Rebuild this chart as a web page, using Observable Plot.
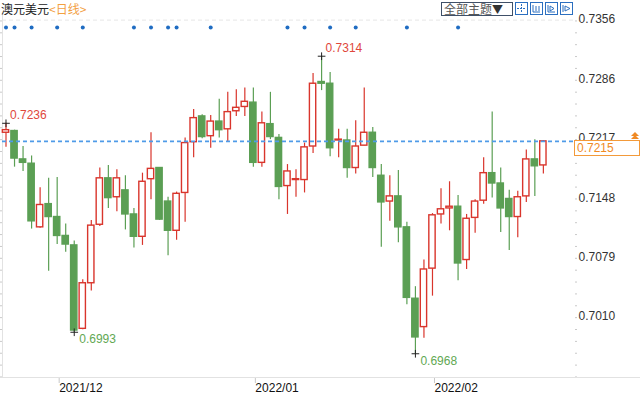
<!DOCTYPE html>
<html>
<head>
<meta charset="utf-8">
<script src="https://cdn.jsdelivr.net/npm/d3@7"></script>
<script src="https://cdn.jsdelivr.net/npm/@observablehq/plot@0.6"></script>
<style>
html,body{margin:0;padding:0;background:#fff;}
#wrap{position:relative;width:640px;height:394px;overflow:hidden;font-family:"Liberation Sans",Arial,sans-serif;}
#wrap svg{position:absolute;left:0;top:0;}
#title{position:absolute;left:1px;top:1px;font-size:12px;line-height:15px;font-family:"Noto Sans CJK SC",sans-serif;color:#222;z-index:2;white-space:nowrap;}
#title .sub{color:#f3a03f;}
#theme{position:absolute;left:441px;top:2px;width:68px;height:12px;border:1px solid #3f5068;font-size:12px;line-height:12px;font-family:"Noto Sans CJK SC",sans-serif;color:#555;padding-left:2px;z-index:2;white-space:nowrap;}
#theme b{color:#333;font-weight:normal;font-size:11px;}
.ibtn{position:absolute;top:2px;width:11px;height:11px;border:1px solid #2b6fc0;z-index:2;background:#fff;}
.ibtn svg{position:absolute;left:0;top:0;}
#pricebox{position:absolute;left:574px;width:62px;height:14px;border:1px solid #f39a3a;background:#fff;color:#f08a24;font-size:12px;line-height:14px;padding-left:2px;z-index:2;}
#arrow{position:absolute;left:631px;z-index:2;}
#bline{position:absolute;left:0;top:377px;width:640px;height:1px;background:#e2e2e2;}
</style>
</head>
<body>
<div id="wrap">
  <div id="bline"></div>
  <div id="title">澳元美元<span class="sub">&lt;日线&gt;</span></div>
  <div id="theme">全部主题<b>▼</b></div>
  <div class="ibtn" style="left:515px"><svg width="11" height="11"><path d="M5.5 1V10M1 5.5H10" stroke="#2b6fc0" stroke-width="1" stroke-dasharray="2,1"/></svg></div>
  <div class="ibtn" style="left:530px"><svg width="11" height="11"><path d="M2 2V9H9M5 3V8M8 3V8" stroke="#2b6fc0" stroke-width="1" fill="none"/></svg></div>
  <div class="ibtn" style="left:545px"><svg width="11" height="11"><path d="M2 2V9H9M4 3V8L8 5.5Z" stroke="#2b6fc0" stroke-width="1" fill="none"/></svg></div>
  <div class="ibtn" style="left:560px"><svg width="11" height="11"><path d="M2 2V9M4 3V8L9 5.5Z" stroke="#2b6fc0" stroke-width="1" fill="none"/></svg></div>
</div>
<script>
// ---- data (AUD/USD daily candles) ----
const dates = [
  "2021-11-23","2021-11-24","2021-11-25","2021-11-26","2021-11-29","2021-11-30",
  "2021-12-01","2021-12-02","2021-12-03","2021-12-06","2021-12-07","2021-12-08","2021-12-09","2021-12-10",
  "2021-12-13","2021-12-14","2021-12-15","2021-12-16","2021-12-17","2021-12-20","2021-12-21","2021-12-22",
  "2021-12-23","2021-12-24","2021-12-27","2021-12-28","2021-12-29","2021-12-30","2021-12-31",
  "2022-01-03","2022-01-04","2022-01-05","2022-01-06","2022-01-07","2022-01-10","2022-01-11","2022-01-12",
  "2022-01-13","2022-01-14","2022-01-17","2022-01-18","2022-01-19","2022-01-20","2022-01-21","2022-01-24",
  "2022-01-25","2022-01-26","2022-01-27","2022-01-28","2022-01-31",
  "2022-02-01","2022-02-02","2022-02-03","2022-02-04","2022-02-07","2022-02-08","2022-02-09","2022-02-10",
  "2022-02-11","2022-02-14","2022-02-15","2022-02-16","2022-02-17","2022-02-18"
];
const open = [
  0.7225,0.7227,0.7194,0.7189,0.7115,0.7142,
  0.7127,0.7105,0.7094,0.6997,0.7050,0.7118,0.7172,0.7150,
  0.7158,0.7130,0.7104,0.7171,0.7184,0.7145,0.7111,0.7155,
  0.7214,0.7244,0.7221,0.7238,0.7229,0.7250,0.7255,
  0.7260,0.7190,0.7235,0.7219,0.7163,0.7170,0.7170,0.7209,
  0.7284,0.7282,0.7216,0.7216,0.7184,0.7210,0.7225,0.7175,
  0.7145,0.7151,0.7115,0.7032,0.6999,
  0.7067,0.7130,0.7137,0.7139,0.7077,0.7126,0.7146,0.7178,
  0.7166,0.7148,0.7127,0.7151,0.7194,0.7187
];
const high = [
  0.7236,0.7228,0.7209,0.7198,0.7161,0.7172,
  0.7173,0.7119,0.7099,0.7054,0.7123,0.7184,0.7187,0.7182,
  0.7175,0.7137,0.7178,0.7225,0.7184,0.7150,0.7156,0.7219,
  0.7252,0.7246,0.7245,0.7264,0.7272,0.7275,0.7277,
  0.7277,0.7249,0.7272,0.7223,0.7188,0.7182,0.7213,0.7294,
  0.7314,0.7295,0.7229,0.7229,0.7239,0.7277,0.7231,0.7188,
  0.7175,0.7181,0.7121,0.7046,0.7077,
  0.7131,0.7160,0.7168,0.7152,0.7130,0.7147,0.7196,0.7249,
  0.7184,0.7158,0.7157,0.7205,0.7217,0.7216
];
const low = [
  0.7208,0.7185,0.7180,0.7113,0.7114,0.7064,
  0.7095,0.7086,0.6993,0.6996,0.7041,0.7116,0.7137,0.7133,
  0.7112,0.7091,0.7094,0.7147,0.7123,0.7082,0.7100,0.7121,
  0.7196,0.7218,0.7207,0.7219,0.7214,0.7244,0.7244,
  0.7185,0.7185,0.7217,0.7147,0.7130,0.7150,0.7155,0.7201,
  0.7274,0.7197,0.7196,0.7172,0.7177,0.7210,0.7173,0.7092,
  0.7122,0.7097,0.7025,0.6968,0.6986,
  0.7035,0.7119,0.7111,0.7053,0.7066,0.7108,0.7142,0.7149,
  0.7109,0.7088,0.7103,0.7144,0.7151,0.7177
];
const close = [
  0.7228,0.7195,0.7190,0.7122,0.7141,0.7127,
  0.7105,0.7095,0.6995,0.7050,0.7117,0.7172,0.7149,0.7172,
  0.7130,0.7104,0.7168,0.7183,0.7124,0.7111,0.7154,0.7213,
  0.7242,0.7220,0.7238,0.7228,0.7249,0.7254,0.7261,
  0.7190,0.7236,0.7220,0.7162,0.7180,0.7171,0.7208,0.7282,
  0.7282,0.7207,0.7217,0.7184,0.7209,0.7225,0.7184,0.7144,
  0.7151,0.7115,0.7033,0.6987,0.7066,
  0.7129,0.7136,0.7139,0.7073,0.7125,0.7145,0.7178,0.7166,
  0.7137,0.7127,0.7150,0.7194,0.7186,0.7215
];
// news-event markers (candle dates)
const eventDates = ["2021-11-23","2021-11-24","2021-11-26","2021-12-01","2021-12-06","2021-12-14",
  "2021-12-16","2021-12-20","2021-12-21","2021-12-27","2022-01-07","2022-01-11","2022-01-14",
  "2022-01-19","2022-01-27","2022-02-04"];
// annotated extremes
const highMarkDates = ["2021-11-23","2022-01-13"];
const lowMarkDates = ["2021-12-03","2022-01-28"];
const yTicks = [0.7010,0.7079,0.7148,0.7217,0.7286,0.7356];
const monthLabels = ["2021/12","2022/01","2022/02"];

// ---- build ----
const RED = "#d9352c", GREEN = "#5b9f54";
const rows = dates.map((d,i)=>({i, date:d, open:open[i], high:high[i], low:low[i], close:close[i], up: close[i] >= open[i]}));
const idxOf = d => dates.indexOf(d);
const monthTicks = rows.filter((r,i)=> i>0 && r.date.slice(0,7) !== rows[i-1].date.slice(0,7)).map(r=>r.i);
const highMarks = highMarkDates.map(d=>({i:idxOf(d), v: high[idxOf(d)]}));
const lowMarks = lowMarkDates.map(d=>({i:idxOf(d), v: low[idxOf(d)]}));
const events = eventDates.map(idxOf);
const step = (yTicks[1]-yTicks[0]) / 5;
const minorTicks = d3.range(yTicks[0] - 5*step, yTicks[yTicks.length-1] + step/2, step);
const last = rows[rows.length-1].close;

const chart = Plot.plot({
  width: 640, height: 394,
  marginTop: 14, marginBottom: 17, marginLeft: 2, marginRight: 66,
  x: {type: "linear", domain: [-0.41, 66.65], axis: null},
  y: {domain: [0.69404, 0.73625], axis: null},
  style: {background: "transparent", fontFamily: "'Liberation Sans', Arial, sans-serif", fontSize: "12px", overflow: "visible"},
  marks: [
    Plot.ruleY([yTicks[yTicks.length-1]], {stroke: "#e6e6e6", strokeDasharray: "4,3"}),
    Plot.frame({anchor: "left", stroke: "#e2e2e2"}),
    Plot.axisY({anchor: "left", ticks: minorTicks, tickSize: 2, tickFormat: () => "", stroke: "#c9c9c9", label: null}),
    Plot.axisY({anchor: "right", ticks: minorTicks, tickSize: 2, tickFormat: () => "", stroke: "#c9c9c9", label: null}),
    Plot.axisY({anchor: "right", ticks: yTicks, tickSize: 0, tickPadding: 4, tickFormat: d3.format(".4f"), fill: "#333", fontSize: 12, dy: -1, label: null}),
    Plot.axisX({anchor: "bottom", ticks: monthTicks, tickSize: 6, tickPadding: 0, stroke: "#c8c8c8", fill: "#111", label: null,
      tickFormat: v => monthLabels[monthTicks.indexOf(v)], textAnchor: "start", dx: 2, fontSize: 12}),
    Plot.ruleX(rows, {x: "i", y1: "low", y2: "high", stroke: d => d.up ? RED : GREEN, strokeWidth: 1.2}),
    Plot.rect(rows, {x1: d => d.i - 0.37, x2: d => d.i + 0.37, y1: "open", y2: "close",
      fill: d => d.up ? "#fff" : GREEN, stroke: d => d.up ? RED : GREEN, strokeWidth: 1.4}),
    Plot.ruleY([last], {stroke: "#4f9be8", strokeDasharray: "4,3", strokeWidth: 1.6}),
    Plot.dot(events, {x: d => d, frameAnchor: "top", dy: 13, r: 2, fill: "#1f6cc2"}),
    Plot.dot([...highMarks, ...lowMarks], {x: "i", y: "v", symbol: "plus", r: 2.6, stroke: "#222", strokeWidth: 1}),
    Plot.text(highMarks, {x: "i", y: "v", text: d => d.v.toFixed(4), fill: "#e0473c", textAnchor: "start", dx: 4, dy: -8, fontSize: 12}),
    Plot.text(lowMarks, {x: "i", y: "v", text: d => d.v.toFixed(4), fill: "#62a853", textAnchor: "start", dx: 5, dy: 7, fontSize: 12})
  ]
});
const wrap = document.getElementById("wrap");
wrap.insertBefore(chart, wrap.firstChild.nextSibling);

// current price label on the right axis
const py = chart.scale("y").apply(last);
const box = document.createElement("div");
box.id = "pricebox";
box.textContent = last.toFixed(4);
box.style.top = (py - 0.5) + "px";
wrap.appendChild(box);
const arr = document.createElement("div");
arr.id = "arrow";
arr.style.top = (py - 9) + "px";
arr.innerHTML = '<svg width="8" height="8"><path d="M4 0L8 4H0Z M4 3L8 7H0Z" fill="#f08a24"/></svg>';
wrap.appendChild(arr);
</script>
</body>
</html>
